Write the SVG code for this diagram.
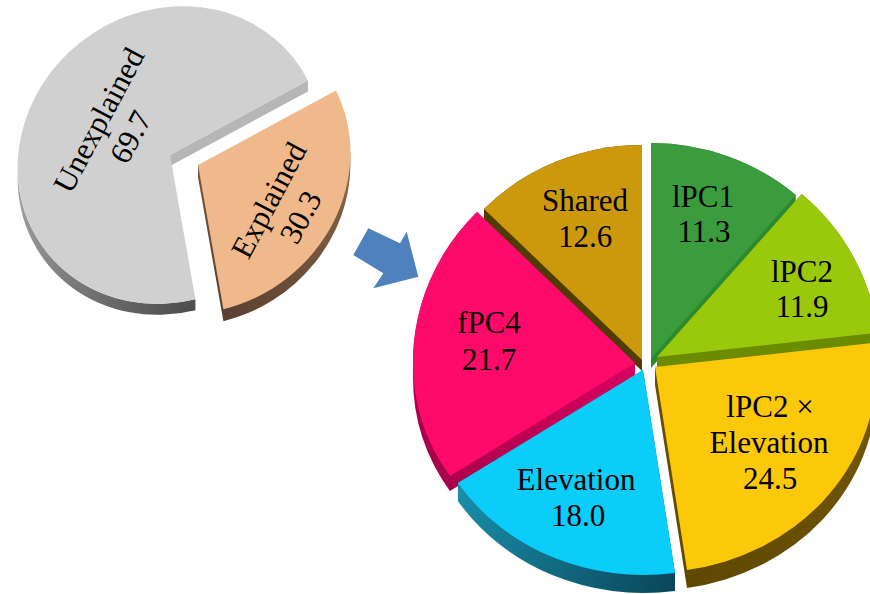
<svg xmlns="http://www.w3.org/2000/svg" width="870" height="594" viewBox="0 0 870 594">
<style>
text{font-family:"Liberation Serif","Times New Roman",serif;font-size:31px;fill:#000;text-anchor:middle}
</style>
<defs>
<linearGradient id="gGray" gradientUnits="userSpaceOnUse" x1="20" y1="170" x2="195" y2="310"><stop offset="0" stop-color="#a8a8a8"/><stop offset="1" stop-color="#4c4c4c"/></linearGradient>
<linearGradient id="gExp" gradientUnits="userSpaceOnUse" x1="350" y1="150" x2="223" y2="320"><stop offset="0" stop-color="#8a6848"/><stop offset="1" stop-color="#5a4030"/></linearGradient>
<linearGradient id="gElev" gradientUnits="userSpaceOnUse" x1="458" y1="490" x2="675" y2="590"><stop offset="0" stop-color="#1a8eab"/><stop offset="1" stop-color="#094658"/></linearGradient>
<linearGradient id="gPink" gradientUnits="userSpaceOnUse" x1="635" y1="370" x2="430" y2="480"><stop offset="0" stop-color="#d8005f"/><stop offset="1" stop-color="#a8004b"/></linearGradient>
<linearGradient id="gYel" gradientUnits="userSpaceOnUse" x1="877" y1="370" x2="687" y2="590"><stop offset="0" stop-color="#76590a"/><stop offset="1" stop-color="#5e4700"/></linearGradient>
</defs>

<g id="unexplained">
<path d="M17.6,167.3 A157 144 -37 0 0 195.4,299.2 L195.4,310.2 A157 144 -37 0 1 17.6,178.3 Z" fill="url(#gGray)"/>
<path d="M170,155 L307.9,80.5 L307.9,91.5 L170,166 Z" fill="#b6b6b6"/>
<path d="M170,155 L307.9,80.5 A157 144 -37 1 0 195.4,299.2 Z" fill="#d0d0d0"/>
<text transform="translate(108,125) rotate(-62)"><tspan x="0" y="0">Unexplained</tspan><tspan x="0" y="36">69.7</tspan></text>
</g>

<g id="explained">
<path d="M198,165 L198,177 L223.4,321.2 A157 144 -37 0 0 350.4,164.7 L350.4,152.7 Z" fill="url(#gExp)"/>
<path d="M198,165 L335.9,90.5 A157 144 -37 0 1 223.4,309.2 Z" fill="#f0b98b"/>
<text transform="translate(278,205) rotate(-62)"><tspan x="0" y="0">Explained</tspan><tspan x="0" y="36">30.3</tspan></text>
</g>

<g id="connectors">
<polygon points="353.3,255 368.3,228.3 400,243.3 406.7,231.7 418.3,276.7 373.3,288.3 383.3,273.3" fill="#4f81bd"/>
</g>

<g id="shared">
<path d="M642,371 L484,219.9 L484,208.9 A222 215 0 0 1 642,145 Z" fill="#4f3d00"/>
<path d="M642,360 L484,208.9 A222 215 0 0 1 642,145 Z" fill="#cb990b"/>
<text><tspan x="585" y="211">Shared</tspan><tspan x="585" y="247">12.6</tspan></text>
</g>

<g id="lpc1">
<path d="M651,368 L651,143 A222 215 0 0 1 795.7,195 L795.7,205 Z" fill="#2b8a2f"/>
<path d="M651,358 L651,143 A222 215 0 0 1 795.7,195 Z" fill="#3b9c3d"/>
<text><tspan x="703" y="207">lPC1</tspan><tspan x="704" y="242">11.3</tspan></text>
</g>

<g id="lpc2">
<path d="M657,357 L801.7,194 A222 215 0 0 1 877.6,332.7 L877.6,342.7 L657,367 Z" fill="#6c8c00"/>
<path d="M657,357 L801.7,194 A222 215 0 0 1 877.6,332.7 Z" fill="#9ac90c"/>
<text><tspan x="802" y="282">lPC2</tspan><tspan x="802" y="317">11.9</tspan></text>
</g>

<g id="fpc4">
<path d="M635,363 L635,378 L449.9,491.1 A222 205 0 0 1 413,378 L413,363 A222 215 0 0 1 477,211.9 Z" fill="url(#gPink)"/>
<path d="M635,363 L449.9,476.1 A222 205 0 0 1 413,363 A222 215 0 0 1 477,211.9 Z" fill="#fd0a6b"/>
<text><tspan x="489" y="333">fPC4</tspan><tspan x="489" y="370">21.7</tspan></text>
</g>

<g id="lpc2-elevation">
<path d="M655,367 L875.6,342.7 A222 215 0 0 1 877,367 L877,385 A222 205 0 0 1 687,587.9 L655,385 Z" fill="url(#gYel)"/>
<path d="M655,367 L875.6,342.7 A222 215 0 0 1 877,367 A222 205 0 0 1 687,569.9 Z" fill="#fcc80a"/>
<text><tspan x="770" y="417">lPC2 ×</tspan><tspan x="769" y="453">Elevation</tspan><tspan x="770" y="489">24.5</tspan></text>
</g>

<g id="elevation">
<path d="M643,370 L675,572.9 L675,590.9 A222 205 0 0 1 457.9,501.1 L457.9,483.1 Z" fill="url(#gElev)"/>
<path d="M643,370 L675,572.9 A222 205 0 0 1 457.9,483.1 Z" fill="#0bcdf9"/>
<text><tspan x="576" y="490">Elevation</tspan><tspan x="578" y="526">18.0</tspan></text>
</g>
</svg>
